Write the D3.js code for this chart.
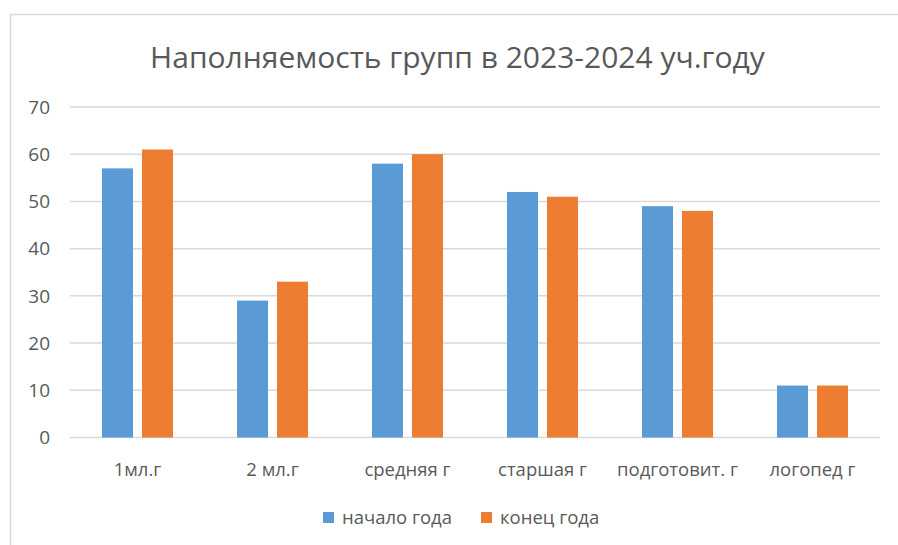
<!DOCTYPE html>
<html>
<head>
<meta charset="utf-8">
<script src="https://cdn.jsdelivr.net/npm/d3@7"></script>
<style>
  body { margin: 0; background: #fff; }
  text { font-family: "Open Sans", "Noto Sans", sans-serif; fill: #595959; }
</style>
</head>
<body>
<svg id="chart" width="898" height="545"></svg>
<script>
var categories = ["1мл.г", "2 мл.г", "средняя г", "старшая г", "подготовит. г", "логопед г"];
var seriesNames = ["начало года", "конец года"];
var startValues = [57, 29, 58, 52, 49, 11];
var endValues = [61, 33, 60, 51, 48, 11];
var yTicks = [0, 10, 20, 30, 40, 50, 60, 70];
var titleText = "Наполняемость групп в 2023-2024 уч.году";

var colors = ["#5b9bd5", "#ed7d31"];

var svg = d3.select("#chart");

// outer frame
svg.append("rect")
    .attr("x", 10.5).attr("y", 14.5)
    .attr("width", 900).attr("height", 540)
    .attr("fill", "none")
    .attr("stroke", "#d9d9d9")
    .attr("stroke-width", 1.5);

var plotLeft = 70, plotRight = 880, plotTop = 107, plotBottom = 437.5;

var x = d3.scaleBand()
    .domain(categories)
    .range([plotLeft, plotRight]);

var y = d3.scaleLinear()
    .domain([0, 70])
    .range([plotBottom, plotTop]);

// gridlines
svg.append("g")
    .selectAll("line")
    .data(yTicks)
    .enter().append("line")
    .attr("x1", plotLeft).attr("x2", plotRight)
    .attr("y1", function(d) { return y(d); })
    .attr("y2", function(d) { return y(d); })
    .attr("stroke", "#d9d9d9")
    .attr("stroke-width", 1.5);

// y labels
svg.append("g")
    .selectAll("text")
    .data(yTicks)
    .enter().append("text")
    .attr("x", 50)
    .attr("y", function(d) { return y(d); })
    .attr("dy", "0.35em")
    .attr("text-anchor", "end")
    .style("font-size", "19px")
    .text(function(d) { return d; });

// bars
var rows = categories.map(function(c, i) {
  return { cat: c, vals: [startValues[i], endValues[i]] };
});

var barW = 31, gap = 9;
var groups = svg.append("g")
    .selectAll("g")
    .data(rows)
    .enter().append("g")
    .attr("transform", function(d) { return "translate(" + (x(d.cat) + x.bandwidth() / 2) + ",0)"; });

groups.selectAll("rect")
    .data(function(d) { return d.vals; })
    .enter().append("rect")
    .attr("x", function(d, i) { return i == 0 ? -barW - gap / 2 : gap / 2; })
    .attr("width", barW)
    .attr("y", function(d) { return y(d); })
    .attr("height", function(d) { return plotBottom - y(d); })
    .attr("fill", function(d, i) { return colors[i]; });

// category labels
svg.append("g")
    .selectAll("text")
    .data(categories)
    .enter().append("text")
    .attr("x", function(d) { return x(d) + x.bandwidth() / 2; })
    .attr("y", 470)
    .attr("dy", "0.35em")
    .attr("text-anchor", "middle")
    .style("font-size", "18.5px")
    .text(function(d) { return d; });

// title
var title = svg.append("text")
    .attr("x", 457.5)
    .attr("y", 57)
    .attr("dy", "0.35em")
    .attr("text-anchor", "middle")
    .style("font-size", "25px")
    .text(titleText);
var tw = title.node().getComputedTextLength();
title.style("font-size", (25 * 615 / tw) + "px");

// legend
var legendX = [323, 481];
var legend = svg.append("g")
    .selectAll("g")
    .data(seriesNames)
    .enter().append("g")
    .attr("transform", function(d, i) { return "translate(" + legendX[i] + ",512)"; });

legend.append("rect")
    .attr("width", 11).attr("height", 11)
    .attr("fill", function(d, i) { return colors[i]; });

legend.append("text")
    .attr("x", 19)
    .attr("y", 5.5)
    .attr("dy", "0.35em")
    .style("font-size", "18.5px")
    .text(function(d) { return d; });
</script>
</body>
</html>
